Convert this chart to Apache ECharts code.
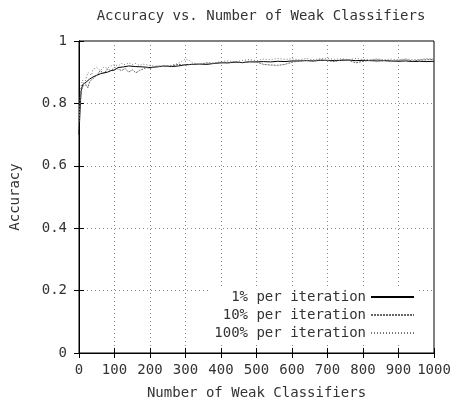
<!doctype html>
<html>
<head>
<meta charset="utf-8">
<title>Accuracy vs. Number of Weak Classifiers</title>
<script src="https://cdn.jsdelivr.net/npm/echarts@6/dist/echarts.min.js"></script>
<style>
  html, body { margin: 0; padding: 0; background: #fff; }
  #chart { width: 457px; height: 409px; }
</style>
</head>
<body>
<div id="chart"></div>
<script>
  // 1% per iteration
  const x1 = [0, 3, 6, 10, 15, 20, 30, 40, 50, 60, 70, 80, 90, 100, 110, 125, 140, 160, 180, 200, 220, 240, 260, 280, 300, 320, 340, 360, 380, 400, 420, 440, 460, 480, 500, 520, 540, 560, 580, 600, 620, 640, 660, 680, 700, 720, 740, 760, 780, 800, 820, 840, 860, 880, 900, 920, 940, 960, 980, 1000];
  const y1 = [0.70, 0.78, 0.84, 0.86, 0.865, 0.868, 0.878, 0.885, 0.89, 0.895, 0.898, 0.90, 0.905, 0.907, 0.915, 0.917, 0.92, 0.918, 0.917, 0.915, 0.917, 0.92, 0.918, 0.92, 0.924, 0.925, 0.926, 0.925, 0.928, 0.93, 0.93, 0.932, 0.931, 0.933, 0.933, 0.934, 0.933, 0.935, 0.934, 0.936, 0.936, 0.937, 0.936, 0.938, 0.938, 0.937, 0.938, 0.939, 0.937, 0.938, 0.937, 0.936, 0.937, 0.936, 0.935, 0.936, 0.934, 0.935, 0.934, 0.935];

  // 10% per iteration
  const x2 = [0, 5, 10, 15, 20, 25, 30, 40, 50, 60, 70, 80, 90, 100, 110, 120, 130, 140, 150, 160, 170, 180, 190, 200, 220, 240, 260, 280, 300, 320, 340, 360, 380, 400, 420, 440, 460, 480, 500, 520, 540, 560, 580, 600, 620, 640, 660, 680, 700, 720, 740, 760, 780, 800, 820, 840, 860, 880, 900, 920, 940, 960, 980, 1000];
  const y2 = [0.74, 0.83, 0.855, 0.85, 0.86, 0.85, 0.87, 0.88, 0.89, 0.905, 0.895, 0.91, 0.905, 0.915, 0.91, 0.905, 0.912, 0.90, 0.908, 0.898, 0.905, 0.91, 0.915, 0.912, 0.92, 0.918, 0.92, 0.925, 0.922, 0.926, 0.925, 0.93, 0.928, 0.932, 0.93, 0.934, 0.93, 0.935, 0.933, 0.925, 0.923, 0.922, 0.925, 0.932, 0.936, 0.938, 0.935, 0.94, 0.937, 0.934, 0.94, 0.938, 0.93, 0.935, 0.938, 0.94, 0.937, 0.934, 0.938, 0.94, 0.936, 0.939, 0.94, 0.941];

  // 100% per iteration
  const x3 = [0, 5, 10, 15, 20, 25, 30, 35, 40, 50, 60, 70, 80, 90, 100, 110, 120, 130, 140, 150, 160, 170, 180, 200, 220, 240, 260, 280, 290, 300, 310, 320, 340, 360, 380, 400, 420, 440, 460, 480, 500, 520, 540, 560, 580, 600, 620, 640, 660, 680, 700, 720, 740, 760, 780, 800, 820, 840, 860, 880, 900, 920, 940, 960, 980, 1000];
  const y3 = [0.76, 0.85, 0.875, 0.86, 0.88, 0.90, 0.905, 0.89, 0.91, 0.915, 0.905, 0.917, 0.912, 0.92, 0.925, 0.92, 0.928, 0.924, 0.93, 0.925, 0.928, 0.922, 0.926, 0.922, 0.918, 0.92, 0.922, 0.928, 0.935, 0.942, 0.938, 0.93, 0.925, 0.928, 0.93, 0.934, 0.936, 0.933, 0.938, 0.94, 0.937, 0.942, 0.94, 0.944, 0.941, 0.943, 0.94, 0.944, 0.94, 0.943, 0.945, 0.941, 0.943, 0.94, 0.944, 0.941, 0.94, 0.943, 0.94, 0.942, 0.94, 0.943, 0.94, 0.941, 0.944, 0.942];

  const names = ['1% per iteration', '10% per iteration', '100% per iteration'];

  const font = 'DejaVu Sans Mono';
  const txt = '#333';

  function pairs(xs, ys) {
    return xs.map((x, i) => [x, ys[i]]);
  }

  const chart = echarts.init(document.getElementById('chart'));

  const mirrorTick = { show: true, inside: true, length: 5, lineStyle: { color: '#000' } };

  chart.setOption({
    animation: false,
    backgroundColor: '#fff',
    title: {
      text: 'Accuracy vs. Number of Weak Classifiers',
      left: 256,
      top: 4,
      textAlign: 'center',
      textStyle: { fontFamily: font, fontSize: 14, fontWeight: 'normal', color: txt }
    },
    grid: {
      left: 78, right: 23, top: 41, bottom: 56,
      show: true, borderColor: '#000', borderWidth: 1
    },
    legend: {
      orient: 'vertical',
      right: 40,
      bottom: 66,
      align: 'right',
      itemWidth: 43,
      itemHeight: 14,
      itemGap: 4,
      padding: [3, 2, 3, 4],
      backgroundColor: '#fff',
      itemStyle: { opacity: 0 },
      textStyle: { fontFamily: font, fontSize: 14, color: txt },
      data: names
    },
    xAxis: [{
      type: 'value',
      min: 0, max: 1000, interval: 100,
      name: 'Number of Weak Classifiers',
      nameLocation: 'middle',
      nameGap: 33,
      nameTextStyle: { fontFamily: font, fontSize: 14, color: txt },
      axisLine: { lineStyle: { color: '#000' } },
      axisTick: { inside: true, length: 5, lineStyle: { color: '#000' } },
      axisLabel: { fontFamily: font, fontSize: 14, color: txt, margin: 10, formatter: v => String(v) },
      splitLine: { show: true, lineStyle: { color: '#888', type: [1, 3] } }
    }, {
      type: 'value', position: 'top',
      min: 0, max: 1000, interval: 100,
      axisLine: { lineStyle: { color: '#000' } },
      axisTick: mirrorTick,
      axisLabel: { show: false },
      splitLine: { show: false }
    }],
    yAxis: [{
      type: 'value',
      min: 0, max: 1, interval: 0.2,
      name: 'Accuracy',
      nameLocation: 'middle',
      nameGap: 57,
      nameTextStyle: { fontFamily: font, fontSize: 14, color: txt },
      axisLine: { show: true, lineStyle: { color: '#000' } },
      axisTick: { show: true, inside: true, length: 5, lineStyle: { color: '#000' } },
      axisLabel: {
        fontFamily: font, fontSize: 14, color: txt, margin: 12,
        formatter: v => (v === 0 || v === 1) ? String(v) : v.toFixed(1)
      },
      splitLine: { show: true, lineStyle: { color: '#888', type: [1, 3] } }
    }, {
      type: 'value', position: 'right',
      min: 0, max: 1, interval: 0.2,
      axisLine: { show: true, lineStyle: { color: '#000' } },
      axisTick: mirrorTick,
      axisLabel: { show: false },
      splitLine: { show: false }
    }],
    series: [{
      name: names[0], type: 'line', symbol: 'none',
      lineStyle: { color: '#000', width: 1 },
      itemStyle: { color: '#000' },
      data: pairs(x1, y1)
    }, {
      name: names[1], type: 'line', symbol: 'none',
      lineStyle: { color: '#666', width: 1, type: [2, 1] },
      itemStyle: { color: '#666' },
      data: pairs(x2, y2)
    }, {
      name: names[2], type: 'line', symbol: 'none',
      lineStyle: { color: '#777', width: 1, type: [1, 2] },
      itemStyle: { color: '#777' },
      data: pairs(x3, y3)
    }]
  });
</script>
</body>
</html>
